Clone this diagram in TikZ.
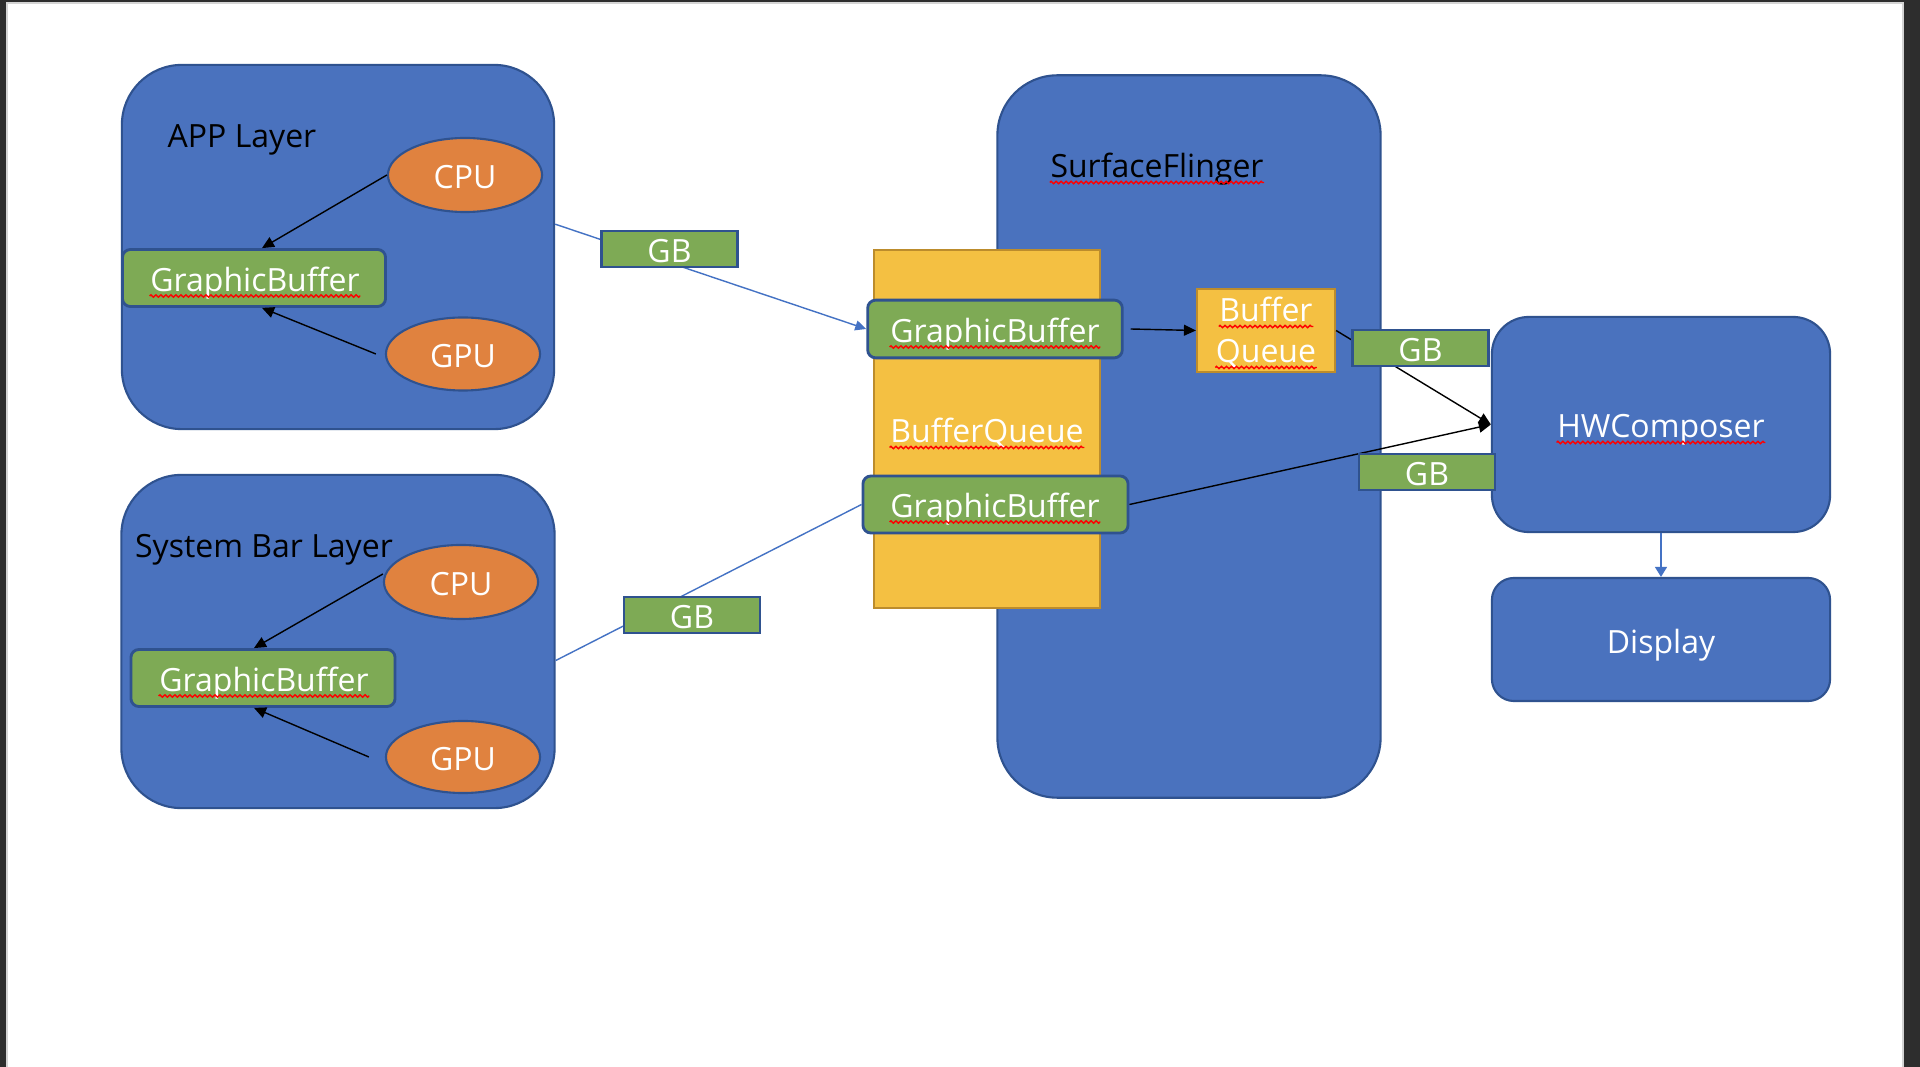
\documentclass[tikz,border=0pt]{standalone}
\usepackage{fontspec}
\setmainfont{Open Sans}
\usetikzlibrary{arrows.meta,shapes.geometric,decorations.pathmorphing}
\usepackage{xcolor}
\definecolor{pagedark}{HTML}{2D2D2D}
\definecolor{pageedge}{HTML}{D4D4D4}
\definecolor{layerblue}{HTML}{4A72BE}
\definecolor{layeredge}{HTML}{2F528F}
\definecolor{unitorange}{HTML}{E0823F}
\definecolor{buffergreen}{HTML}{7EAA55}
\definecolor{queueyellow}{HTML}{F4C042}
\definecolor{queueedge}{HTML}{BC8C2C}
\definecolor{linkblue}{HTML}{4472C4}

\tikzset{
  captext/.style={text height=0.27cm, text depth=0cm},
  layerbox/.style={draw=layeredge, fill=layerblue, line width=0.6pt, rounded corners=0.6cm, inner sep=0},
  unitnode/.style={ellipse, draw=layeredge, fill=unitorange, line width=0.6pt, text=white, inner sep=0, captext},
  bufferbox/.style={draw=layeredge, fill=buffergreen, line width=0.8pt, rounded corners=0.08cm, inner sep=0},
  gbtag/.style={draw=layeredge, fill=buffergreen, line width=0.8pt, text=white, inner sep=0, captext,
    minimum width=1.36cm, minimum height=0.36cm},
  queuebox/.style={draw=queueedge, fill=queueyellow, line width=0.6pt, inner sep=0},
  word/.style={inner sep=0, text=white, captext},
  spellline/.style={red, line width=0.4pt, decorate,
    decoration={zigzag, segment length=0.05cm, amplitude=0.012cm}},
  feed/.style={black, line width=0.4pt, -{Triangle[length=0.12cm, width=0.11cm]}},
  link/.style={linkblue, line width=0.4pt},
}

% red wavy spell-check mark under a word node
\newcommand\spellmark[1]{\draw[spellline] ([yshift=-0.045cm]#1.base west) -- ([yshift=-0.045cm]#1.base east);}

\begin{document}
\begin{tikzpicture}[x=0.01cm, y=-0.01cm, font=\fontsize{9.1}{11.7}\selectfont]

  % Page frame
  \fill[pagedark] (0,0) rectangle (1920,1067);
  \fill[pageedge] (6,2) rectangle (1904,1067);
  \fill[white] (8,4) rectangle (1902,1067);
  \useasboundingbox (0,0) rectangle (1920,1067);

  % APP layer
  \node[layerbox, minimum width=4.32cm, minimum height=3.64cm] (appLayer) at (338,247) {};
  \node[anchor=base] (appTitle) at (242,148) {APP Layer};
  \node[unitnode, minimum width=1.54cm, minimum height=0.74cm] (appCpu) at (465,175) {CPU};
  \node[bufferbox, minimum width=2.63cm, minimum height=0.57cm] (appGb) at (254,278) {};
  \node[word] (appGbText) at (255,278) {GraphicBuffer};
  \spellmark{appGbText}
  \node[unitnode, minimum width=1.54cm, minimum height=0.73cm] (appGpu) at (463,354) {GPU};
  \draw[feed] (appCpu.west) -- ([xshift=0.08cm]appGb.north);
  \draw[feed] ([xshift=-0.09cm]appGpu.west) -- ([xshift=0.08cm]appGb.south);

  % System bar layer
  \node[layerbox, minimum width=4.33cm, minimum height=3.33cm] (sysLayer) at (338,641.5) {};
  \node[anchor=base] (sysTitle) at (264,558) {System Bar Layer};
  \node[unitnode, minimum width=1.54cm, minimum height=0.74cm] (sysCpu) at (461,582) {CPU};
  \node[bufferbox, minimum width=2.64cm, minimum height=0.57cm] (sysGb) at (263,678) {};
  \node[word] (sysGbText) at (264,678) {GraphicBuffer};
  \spellmark{sysGbText}
  \node[unitnode, minimum width=1.54cm, minimum height=0.72cm] (sysGpu) at (463,757) {GPU};
  \draw[feed] ([yshift=0.08cm]sysCpu.west) -- ([xshift=-0.09cm]sysGb.north);
  \draw[feed] ([xshift=-0.16cm]sysGpu.west) -- ([xshift=-0.09cm]sysGb.south);

  % SurfaceFlinger with its BufferQueue
  \node[layerbox, minimum width=3.83cm, minimum height=7.22cm] (surfaceFlinger) at (1189,436.5) {};
  \node[word, anchor=base, text=black] (sfTitle) at (1157,178) {SurfaceFlinger};
  \spellmark{sfTitle}
  \node[queuebox, minimum width=2.265cm, minimum height=3.58cm] (bufferQueue) at (987,429) {};
  \node[word, anchor=base] (bqTitle) at (987,443) {BufferQueue};
  \spellmark{bqTitle}
  \node[bufferbox, minimum width=2.545cm, minimum height=0.577cm] (sfGbTop) at (995,329) {};
  \node[word] (sfGbTopText) at (995,329) {GraphicBuffer};
  \spellmark{sfGbTopText}
  \node[bufferbox, minimum width=2.65cm, minimum height=0.57cm] (sfGbBot) at (995.5,504.5) {};
  \node[word] (sfGbBotText) at (995,504) {GraphicBuffer};
  \spellmark{sfGbBotText}
  \node[queuebox, minimum width=1.38cm, minimum height=0.83cm] (smallQueue) at (1266,330.5) {};
  \node[word, anchor=base] (smallQueueTop) at (1266,322) {Buffer};
  \node[word, anchor=base] (smallQueueBot) at (1266,363) {Queue};
  \spellmark{smallQueueTop}
  \spellmark{smallQueueBot}

  % HWComposer & Display
  \node[layerbox, rounded corners=0.37cm, minimum width=3.38cm, minimum height=2.15cm]
    (hwComposer) at (1661,424.5) {};
  \node[word, anchor=base] (hwText) at (1661,438) {HWComposer};
  \spellmark{hwText}
  \node[layerbox, rounded corners=0.22cm, minimum width=3.38cm, minimum height=1.23cm, text=white, captext]
    (display) at (1661,639.5) {Display};

  % Connectors
  \draw[link, -{Triangle[length=0.11cm, width=0.1cm]}] (appLayer.6) -- (sfGbTop.west);
  \draw[link] (sysLayer.-5) -- (sfGbBot.west);
  \draw[feed] ([xshift=0.07cm]sfGbTop.east) -- (smallQueue.west);
  \draw[feed] (smallQueue.east) -- (hwComposer.west);
  \draw[feed] (sfGbBot.east) -- (hwComposer.west);
  \draw[link, -{Triangle[length=0.1cm, width=0.12cm]}] (hwComposer.south) -- (display.north);

  % GB tags on the links
  \node[gbtag] (gbApp) at (669.5,249) {GB};
  \node[gbtag] (gbSys) at (692,615) {GB};
  \node[gbtag] (gbQueue) at (1420.5,348) {GB};
  \node[gbtag] (gbFrame) at (1427,472) {GB};

\end{tikzpicture}
\end{document}
